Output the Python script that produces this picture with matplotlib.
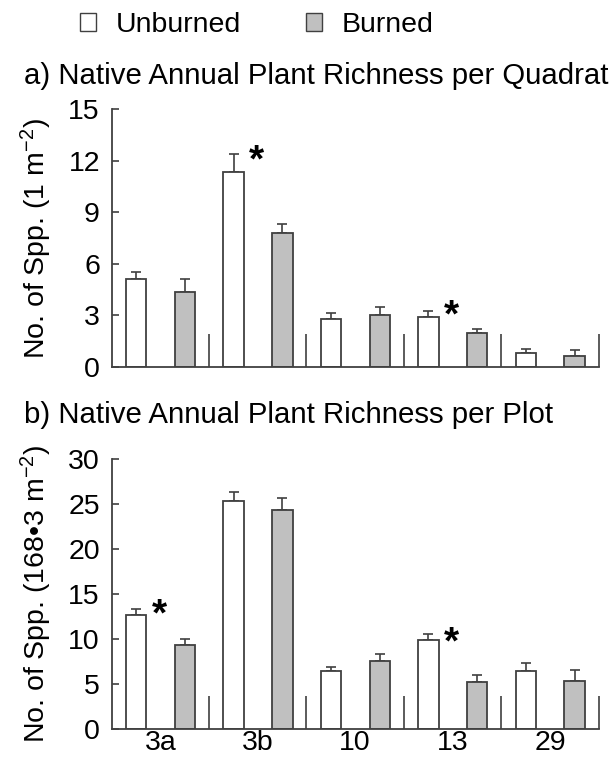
import matplotlib

matplotlib.use("Agg")
import matplotlib.pyplot as plt
import numpy as np
from matplotlib.patches import Patch
from matplotlib.ticker import FixedLocator, NullFormatter

SITES = ["3a", "3b", "10", "13", "29"]

QUAD_UNBURNED = [5.13, 11.37, 2.78, 2.92, 0.82]
QUAD_UNBURNED_SE = [0.39, 1.01, 0.33, 0.31, 0.19]
QUAD_BURNED = [4.37, 7.81, 3.03, 1.94, 0.62]
QUAD_BURNED_SE = [0.76, 0.51, 0.47, 0.28, 0.33]

PLOT_UNBURNED = [12.64, 25.34, 6.50, 9.88, 6.50]
PLOT_UNBURNED_SE = [0.74, 0.96, 0.38, 0.73, 0.86]
PLOT_BURNED = [9.39, 24.37, 7.58, 5.28, 5.39]
PLOT_BURNED_SE = [0.67, 1.33, 0.74, 0.71, 1.22]

# significant differences: (site index, y position of the star)
QUAD_STARS = [(1, 12.68), (3, 3.66)]
PLOT_STARS = [(0, 14.05), (3, 10.94)]

FONT = "Liberation Sans"
FS = 20.5
TITLE_FS = 21.2
STAR_FS = 28
EDGE = "#404040"
GREY = "#c0c0c0"

plt.rcParams["font.family"] = [FONT, "DejaVu Sans"]
plt.rcParams["mathtext.fontset"] = "custom"
plt.rcParams["mathtext.rm"] = FONT
plt.rcParams["mathtext.it"] = FONT
plt.rcParams["mathtext.default"] = "regular"


def draw_panel(ax, unb, unb_se, brn, brn_se, stars, ymax, ystep, ylabel, show_sites):
    x = np.arange(len(SITES))
    width = 0.21
    xu = x + 0.252
    xb = x + 0.752
    ax.bar(xu, unb, width=width, color="white", edgecolor=EDGE, linewidth=1.3, zorder=2)
    ax.bar(xb, brn, width=width, color=GREY, edgecolor=EDGE, linewidth=1.3, zorder=2)
    for xs, ys, es in ((xu, unb, unb_se), (xb, brn, brn_se)):
        ax.errorbar(
            xs, ys, yerr=[np.zeros(len(es)), es], fmt="none",
            ecolor=EDGE, elinewidth=1.2, capsize=3.5, capthick=1.2, zorder=1,
        )
    for i, ys in stars:
        ax.annotate(
            "*", xy=(x[i] + 0.49, ys), xytext=(0, -0.58 * STAR_FS),
            textcoords="offset points", ha="center", va="baseline",
            fontsize=STAR_FS, fontweight="bold",
        )

    ax.set_xlim(0, len(SITES))
    ax.set_ylim(0, ymax)
    ax.set_yticks(np.arange(0, ymax + 0.1, ystep))
    ax.set_ylabel(ylabel, fontsize=FS, labelpad=10)
    ax.tick_params(axis="y", direction="in", length=5, width=1.2, color=EDGE,
                   labelsize=FS, pad=8.5)

    # group separators as tall inward ticks, site names at group centres
    ax.xaxis.set_major_locator(FixedLocator(np.arange(1, len(SITES) + 1)))
    ax.xaxis.set_major_formatter(NullFormatter())
    ax.xaxis.set_minor_locator(FixedLocator(x + 0.5))
    if show_sites:
        ax.set_xticklabels(SITES, minor=True)
    else:
        ax.xaxis.set_minor_formatter(NullFormatter())
    ax.tick_params(axis="x", which="major", direction="in", length=24, width=1.2, color=EDGE)
    ax.tick_params(axis="x", which="minor", length=0, labelsize=FS, pad=0.5)

    for side in ("top", "right"):
        ax.spines[side].set_visible(False)
    for side in ("left", "bottom"):
        ax.spines[side].set_color(EDGE)
        ax.spines[side].set_linewidth(1.3)


def main() -> None:
    fig = plt.figure(figsize=(6.16, 7.61), dpi=100)
    ax_a = fig.add_axes([0.1813, 0.5181, 0.7906, 0.3382])
    ax_b = fig.add_axes([0.1813, 0.0417, 0.7906, 0.3551])

    draw_panel(ax_a, QUAD_UNBURNED, QUAD_UNBURNED_SE, QUAD_BURNED, QUAD_BURNED_SE,
               QUAD_STARS, 15, 3, r"No. of Spp. (1 m$^{-2}$)", False)
    draw_panel(ax_b, PLOT_UNBURNED, PLOT_UNBURNED_SE, PLOT_BURNED, PLOT_BURNED_SE,
               PLOT_STARS, 30, 5, r"No. of Spp. (168•3 m$^{-2}$)", True)

    fig.text(24 / 616, 1 - 84 / 761, "a) Native Annual Plant Richness per Quadrat",
             fontsize=TITLE_FS, ha="left", va="baseline")
    fig.text(24 / 616, 1 - 423 / 761, "b) Native Annual Plant Richness per Plot",
             fontsize=TITLE_FS, ha="left", va="baseline")

    handles = [
        Patch(facecolor="white", edgecolor=EDGE, linewidth=1.0, label="Unburned"),
        Patch(facecolor=GREY, edgecolor=EDGE, linewidth=1.0, label="Burned"),
    ]
    fig.legend(
        handles=handles, loc="center left", bbox_to_anchor=(80 / 616, 1 - 25 / 761),
        ncol=2, frameon=False, fontsize=FS, handlelength=0.55, handleheight=0.55,
        handletextpad=0.7, columnspacing=2.3, borderpad=0, borderaxespad=0,
    )

    fig.savefig("out.png", dpi=100)
    plt.close(fig)


if __name__ == "__main__":
    main()
